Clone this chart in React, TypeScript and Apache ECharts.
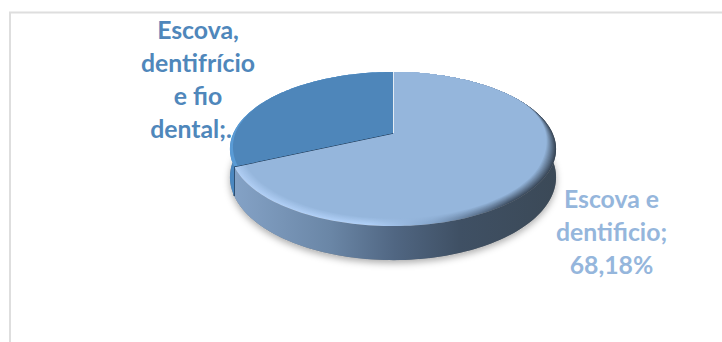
import React, { useEffect, useRef } from "react";
import * as echarts from "echarts";

const categories = ["Escova e dentificio", "Escova, dentifrício e fio dental"];
const shares = [68.18, 31.82];
const labelLines = [
  ["Escova e", "dentificio;", "68,18%"],
  ["Escova,", "dentifrício", "e fio"],
  ["dental;."],
];
const labelColors = ["#95B6DC", "#4F87BB"];

// Projection of the tilted disc: a unit circle seen in perspective.
const CX = 393;
const CY = 133;
const RX = 159.5;
const DEPTH_A = 73.7;
const DEPTH_B = 0.208;
const THICK = 27;
const TAU = Math.PI * 2;

// Bevel width along the rim: nothing on the far side, full on the near side.
function bevelWeight(theta: number): number {
  const v = (-Math.cos(theta) + 0.6) / 1.0;
  const c = Math.min(1, Math.max(0, v));
  return c * c * (3 - 2 * c);
}

function project(theta: number, inset = 0, drop = 0): number[] {
  const radius = 1 - inset * bevelWeight(theta);
  const s = Math.sin(theta) * radius;
  const t = -Math.cos(theta) * radius;
  const w = 1 - DEPTH_B * t;
  return [CX + (RX * s) / w, CY + (DEPTH_A * t) / w + drop / w];
}

function arc(a: number, b: number, inset = 0, drop = 0): number[][] {
  const n = Math.max(4, Math.ceil((Math.abs(b - a) / TAU) * 240));
  const pts: number[][] = [];
  for (let i = 0; i <= n; i++) pts.push(project(a + ((b - a) * i) / n, inset, drop));
  return pts;
}

const horizontal = (stops: [number, string][]) =>
  new echarts.graphic.LinearGradient(
    0, 0, 1, 0,
    stops.map(([offset, color]) => ({ offset, color })),
    false
  );

function mix(c1: number[], c2: number[], k: number): string {
  const v = c1.map((c, i) => Math.round(c + (c2[i] - c) * k));
  return `rgb(${v[0]},${v[1]},${v[2]})`;
}

const FACE_LIGHT = [149, 182, 220];
const FACE_DARK = "#4E86BA";

// Rim colour of the light slice along x, sampled into a gradient for each bevel layer.
function lightRim(k: number) {
  return horizontal([
    [0, mix([176, 206, 244], FACE_LIGHT, k)],
    [0.42, mix([176, 208, 248], FACE_LIGHT, k)],
    [0.62, mix([132, 164, 202], FACE_LIGHT, k)],
    [0.86, mix([60, 76, 96], FACE_LIGHT, k)],
    [1, mix([56, 70, 86], FACE_LIGHT, k)],
  ]);
}

function renderSlice(params: any, api: any) {
  const index = params.dataIndex;
  const total = shares.reduce((a, b) => a + b, 0);
  const before = shares.slice(0, index).reduce((a, b) => a + b, 0);
  const a0 = (before / total) * TAU;
  const a1 = ((before + api.value(0)) / total) * TAU;
  const children: any[] = [];
  const apex = [CX, CY];

  if (index === 0) {
    // Light slice: wall, then bevel layers drawn from the rim inwards.
    children.push({
      type: "polygon",
      shape: { points: arc(a0, a1).concat(arc(a1, a0, 0, THICK)) },
      style: {
        fill: horizontal([
          [0, "#84A2C6"],
          [0.3, "#6A86A6"],
          [0.5, "#506682"],
          [0.7, "#3F5064"],
          [1, "#3B4957"],
        ]),
      },
    });
    const layers = 10;
    for (let i = 0; i <= layers; i++) {
      const k = i / layers;
      children.push({
        type: "polygon",
        shape: { points: [apex].concat(arc(a0, a1, k * 0.065)) },
        style: { fill: i === layers ? mix(FACE_LIGHT, FACE_LIGHT, 0) : lightRim(k) },
      });
    }
    // Cut edges of the slice.
    children.push({
      type: "polyline",
      shape: { points: [apex, project(a1), project(a1, 0, THICK)] },
      style: { fill: "none", stroke: "#1E3A58", lineWidth: 1.4 },
    });
    children.push({
      type: "polyline",
      shape: { points: [apex, project(0)] },
      style: { fill: "none", stroke: "#E4ECF4", lineWidth: 2 },
    });
  } else {
    children.push({
      type: "polygon",
      shape: { points: arc(a0, a1).concat(arc(a1, a0, 0, THICK)) },
      style: { fill: "#4A87C0" },
    });
    children.push({
      type: "polygon",
      shape: { points: [apex].concat(arc(a0, a1)) },
      style: { fill: "#5A9BD5" },
    });
    children.push({
      type: "polygon",
      shape: { points: [apex].concat(arc(a0, a1, 0.02)) },
      style: { fill: FACE_DARK },
    });
  }
  return { type: "group", children };
}

// Soft shadow cast by the disc on the page.
function renderShadow() {
  return {
    type: "polygon",
    silent: true,
    shape: { points: arc(0, TAU, 0, THICK) },
    style: {
      fill: "#8A8A8A",
      shadowBlur: 7,
      shadowColor: "rgba(0,0,0,0.32)",
      shadowOffsetY: 3,
    },
  };
}

export default function App() {
  const ref = useRef<HTMLDivElement | null>(null);

  useEffect(() => {
    if (!ref.current) return;
    const chart = echarts.init(ref.current, undefined, { renderer: "svg" });
    const label = (lines: string[], color: string, x: number, y: number) => ({
      type: "text",
      x,
      y,
      z: 10,
      style: {
        text: lines.join("\n"),
        fill: color,
        font: '700 24.8px Lato, "Open Sans", sans-serif',
        lineHeight: 33,
        align: "center",
        verticalAlign: "top",
      },
    });
    chart.setOption({
      animation: false,
      backgroundColor: "#FFFFFF",
      graphic: [
        {
          type: "rect",
          shape: { x: 10, y: 12.5, width: 800, height: 400 },
          style: { fill: "#FFFFFF", stroke: "#DEDEDE", lineWidth: 2 },
          silent: true,
          z: -10,
        },
        label(labelLines[0], labelColors[0], 611.5, 182),
        label(labelLines[1], labelColors[1], 198, 13),
        label(labelLines[2], labelColors[1], 191, 112),
      ],
      series: [
        {
          type: "custom",
          coordinateSystem: "none",
          clip: false,
          z: 1,
          data: [0],
          renderItem: renderShadow,
        },
        {
          type: "custom",
          coordinateSystem: "none",
          clip: false,
          z: 2,
          name: "Higiene bucal",
          data: categories.map((name, i) => ({ name, value: [shares[i]] })),
          encode: { value: 0 },
          renderItem: renderSlice,
        },
      ],
    });
    return () => chart.dispose();
  }, []);

  return (
    <div
      ref={ref}
      style={{ position: "fixed", left: 0, top: 0, width: 722, height: 342 }}
    />
  );
}
